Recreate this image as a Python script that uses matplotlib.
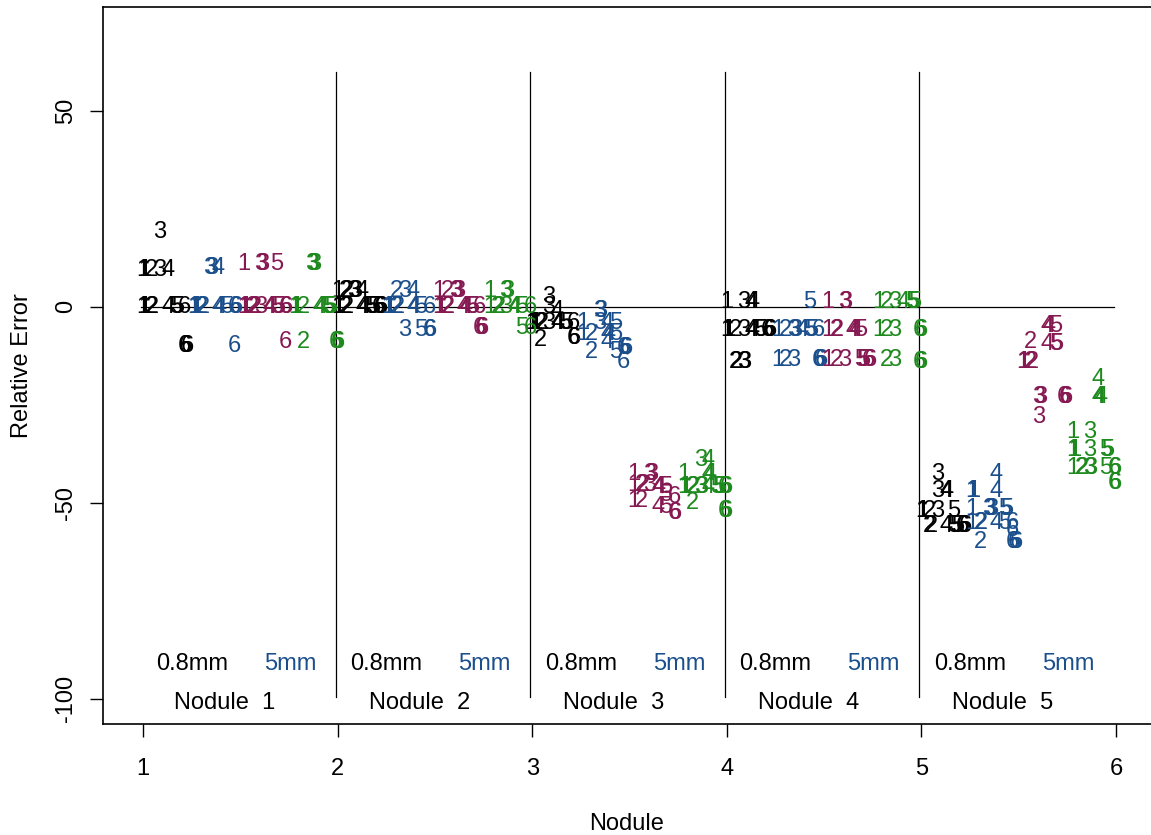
import matplotlib.pyplot as plt
import numpy as np

plt.rcParams['font.family'] = ['Liberation Sans', 'DejaVu Sans']

# relative error per reader (index 0 -> reader 1 ... index 5 -> reader 6)
# black = 0.8mm (method A), blue = 5mm (method A), maroon = 0.8mm (method B), green = 5mm (method B)
black_n1 = [[9.4, 9.4, 0, 0], [9.4, 0, 0], [19, 9.4], [9.4, 0], [0, 0], [0, -10, -10, -10]]
blue_n1 = [[0, 0, 0], [0, 0], [10, 10], [10, 0, 0], [0], [0, 0, -10]]
maroon_n1 = [[11, 0, 0], [0, 0, 0], [11, 11, 0], [0, 0], [11, 0, 0], [0, 0, -9]]
green_n1 = [[0, 0], [0, -9], [11, 11, 11], [0, 0], [0, 0, 0], [-9, -9, -9]]

black_n2 = [[4, 0, 0], [4, 4, 0, 0], [4, 4], [4, 0, 0], [0, 0, 0], [0, 0, 0]]
blue_n2 = [[0, 0], [4, 0, 0], [4, -6], [4, 0, 0], [0, -6], [0, -6, -6]]
maroon_n2 = [[4, 0, 0], [4, 0, 0], [4, 4, 4], [0, 0, 0], [0, 0], [0, -5.5, -5.5, -5.5]]
green_n2 = [[4, 0], [0, 0], [4, 4, 0], [0, 0], [0, -5.5], [0, -5.5]]

black_n3 = [[-4, -4, -4], [-4, -4, -8.5], [2.5, 0, -4], [-1, -4, -4], [-4, -4], [-4, -8, -8]]
blue_n3 = [[-4, -7], [-7, -11.5], [-1, -1, -4], [-4, -7, -7, -9], [-4, -7, -11.5], [-10.5, -10.5, -10.5, -14]]
maroon_n3 = [[-42.5, -45.5, -49.5], [-45.5, -45.5, -49.5], [-42.5, -42.5, -45.5], [-46, -46, -51],
             [-46, -48, -51], [-48.5, -52.5, -52.5]]
green_n3 = [[-42.5, -46, -46], [-46, -46, -50], [-39, -46, -46], [-39, -42.5, -42.5, -46],
            [-46, -46, -46], [-46, -46, -52, -52]]

black_n4 = [[1.3, -6, -6], [-6, -14, -14], [1.3, -6, -14, -14], [1.3, 1.3, -6, -6], [-6, -6], [-6, -6, -6]]
blue_n4 = [[-6, -13.5], [-6, -13.5], [-6, -6, -13.5], [-6], [1.3, -6, -6], [-6, -13.5, -13.5, -13.5]]
maroon_n4 = [[1.3, -6, -13.5], [-6, -6, -13.5], [1.3, 1.3, -13.5], [-6, -6, -6],
             [-6, -13.5, -13.5, -13.5], [-13.5, -13.5]]
green_n4 = [[1.3, -6], [1.3, -6, -13.5], [1.3, -6, -13.5], [1.3], [1.3, 1.3, 1.3], [-6, -6, -14, -14]]

black_n5 = [[-52, -52], [-52, -56, -56], [-42.5, -47, -52], [-47, -47, -56], [-52, -56, -56, -56],
            [-56, -56, -56]]
blue_n5 = [[-47, -47, -51.5, -55], [-55, -55, -60], [-51.5, -51.5, -51.5], [-42.5, -47, -55],
           [-51.5, -51.5, -55], [-55, -57, -60, -60, -60]]
maroon_n5 = [[-14, -14], [-9, -14, -14], [-23, -23, -28], [-5, -5, -9.5], [-5, -9.5, -9.5], [-23, -23, -23]]
green_n5 = [[-32, -36.5, -36.5, -41], [-41, -41], [-32, -36.5, -41, -41], [-18.5, -23, -23, -23],
            [-36.5, -36.5, -41], [-41, -41, -45, -45]]

nodules = [1, 2, 3, 4, 5]
groups = [
    ('black', [black_n1, black_n2, black_n3, black_n4, black_n5]),
    ('#1b4f8c', [blue_n1, blue_n2, blue_n3, blue_n4, blue_n5]),
    ('#861852', [maroon_n1, maroon_n2, maroon_n3, maroon_n4, maroon_n5]),
    ('#1e8a1e', [green_n1, green_n2, green_n3, green_n4, green_n5]),
]

fig = plt.figure(figsize=(11.51, 8.35), dpi=100)
ax = fig.add_axes([103/1151, 111/835, 1048/1151, 717/835])

for g, (col, data) in enumerate(groups):
    for n, readers in zip(nodules, data):
        for r, vals in enumerate(readers):
            x0 = n + 0.26*g + 0.042*r
            seen = {}
            for v in vals:
                k = seen.get(v, 0)
                seen[v] = k + 1
                ax.text(x0 + 0.008*k, v, str(r + 1), color=col, fontsize=17,
                        ha='center', va='center')

# separators and zero line
for n in nodules[1:]:
    ax.plot([n - 0.01, n - 0.01], [-99.5, 60], color='black', lw=0.9)
ax.plot([0.99, 5.99], [0, 0], color='black', lw=0.9)

for n in nodules:
    ax.text(n + 0.25, -91, '0.8mm', ha='center', va='center', fontsize=17)
    ax.text(n + 0.755, -91, '5mm', ha='center', va='center', fontsize=17, color='#1b4f8c')
    ax.text(n + 0.42, -101, 'Nodule  %d' % n, ha='center', va='center', fontsize=17)

ax.set_xlim(0.794, 6.18)
ax.set_ylim(-106.4, 76.5)
ax.set_xticks([1, 2, 3, 4, 5, 6])
ax.set_yticks([50, 0, -50, -100])
ax.set_yticklabels(['50', '0', '-50', '-100'], rotation=90, va='center')
ax.tick_params(direction='out', length=9.5, width=1, labelsize=17, pad=9)
ax.tick_params(axis='x', pad=15)
ax.spines['right'].set_visible(False)
for s in ['left', 'top', 'bottom']:
    ax.spines[s].set_linewidth(1.2)

ax.set_xlabel('Nodule', fontsize=17, labelpad=24)
ax.set_ylabel('Relative Error', fontsize=17, labelpad=16)

fig.savefig('out.png', dpi=100)
